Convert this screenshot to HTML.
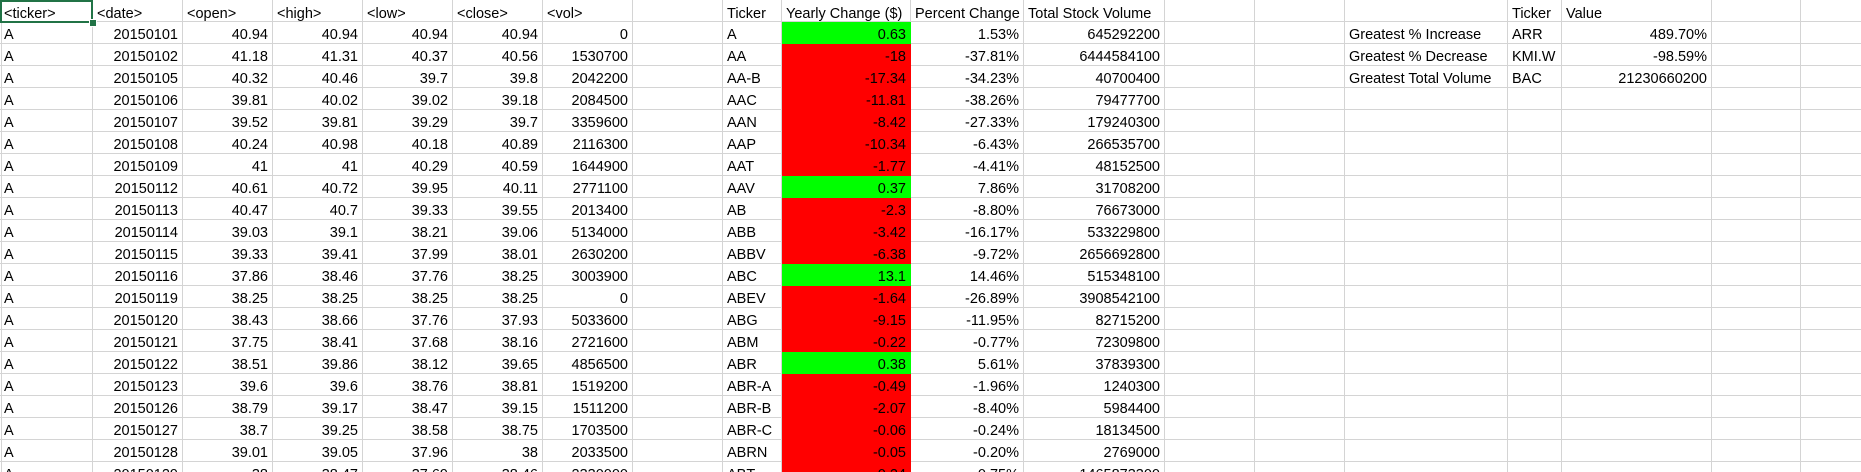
<!DOCTYPE html>
<html><head><meta charset="utf-8"><style>
html,body{margin:0;padding:0;background:#fff;width:1861px;height:472px;overflow:hidden;}
#wrap{width:1861px;height:472px;overflow:hidden;position:relative;font-family:"Liberation Sans",sans-serif;font-size:14.5px;color:#000;}
.c{position:absolute;box-sizing:border-box;border-right:1px solid #d4d4d4;border-bottom:1px solid #d4d4d4;padding:3px 4px 0 4px;line-height:20px;white-space:nowrap;overflow:hidden;}
.r{text-align:right;}
#sel{position:absolute;left:0;top:0;width:93px;height:23px;box-sizing:border-box;border:2px solid #217346;}
#handle{position:absolute;left:89px;top:19px;width:6px;height:6px;background:#217346;border:1px solid #fff;}
#lb{position:absolute;left:1px;top:0;width:1px;height:472px;background:#d4d4d4;}
</style></head><body>
<div id="wrap">
<div id="grid"></div>
<div id="lb"></div>
<div id="sel"></div>
<div id="handle"></div>
</div>
<script>
const colEdges=[0,93,183,273,363,453,543,633,723,782,911,1024,1165,1255,1345,1508,1562,1712,1801,1891];
const headers=["<ticker>","<date>","<open>","<high>","<low>","<close>","<vol>","","Ticker","Yearly Change ($)","Percent Change","Total Stock Volume","","","","Ticker","Value","",""];
const dates=["20150101","20150102","20150105","20150106","20150107","20150108","20150109","20150112","20150113","20150114","20150115","20150116","20150119","20150120","20150121","20150122","20150123","20150126","20150127","20150128","20150129"];
const opens=["40.94","41.18","40.32","39.81","39.52","40.24","41","40.61","40.47","39.03","39.33","37.86","38.25","38.43","37.75","38.51","39.6","38.79","38.7","39.01","38"];
const highs=["40.94","41.31","40.46","40.02","39.81","40.98","41","40.72","40.7","39.1","39.41","38.46","38.25","38.66","38.41","39.86","39.6","39.17","39.25","39.05","38.47"];
const lows=["40.94","40.37","39.7","39.02","39.29","40.18","40.29","39.95","39.33","38.21","37.99","37.76","38.25","37.76","37.68","38.12","38.76","38.47","38.58","37.96","37.69"];
const closes=["40.94","40.56","39.8","39.18","39.7","40.89","40.59","40.11","39.55","39.06","38.01","38.25","38.25","37.93","38.16","39.65","38.81","39.15","38.75","38","38.46"];
const vols=["0","1530700","2042200","2084500","3359600","2116300","1644900","2771100","2013400","5134000","2630200","3003900","0","5033600","2721600","4856500","1519200","1511200","1703500","2033500","2330000"];
const tickers=["A","AA","AA-B","AAC","AAN","AAP","AAT","AAV","AB","ABB","ABBV","ABC","ABEV","ABG","ABM","ABR","ABR-A","ABR-B","ABR-C","ABRN","ABT"];
const yearly=["0.63","-18","-17.34","-11.81","-8.42","-10.34","-1.77","0.37","-2.3","-3.42","-6.38","13.1","-1.64","-9.15","-0.22","0.38","-0.49","-2.07","-0.06","-0.05","-0.24"];
const pct=["1.53%","-37.81%","-34.23%","-38.26%","-27.33%","-6.43%","-4.41%","7.86%","-8.80%","-16.17%","-9.72%","14.46%","-26.89%","-11.95%","-0.77%","5.61%","-1.96%","-8.40%","-0.24%","-0.20%","-0.75%"];
const totals=["645292200","6444584100","40700400","79477700","179240300","266535700","48152500","31708200","76673000","533229800","2656692800","515348100","3908542100","82715200","72309800","37839300","1240300","5984400","18134500","2769000","1465873300"];
const sumLabels=["Greatest % Increase","Greatest % Decrease","Greatest Total Volume"];
const sumTickers=["ARR","KMI.W","BAC"];
const sumValues=["489.70%","-98.59%","21230660200"];
const g=document.getElementById('grid');
const HDR=22,RH=22;
function cell(ci,ri,text,right,bg){
  const d=document.createElement('div');
  d.className='c'+(right?' r':'');
  const top=ri===0?0:HDR+(ri-1)*RH;
  const h=ri===0?HDR:RH;
  d.style.left=colEdges[ci]+'px';d.style.top=top+'px';
  d.style.width=(colEdges[ci+1]-colEdges[ci])+'px';d.style.height=h+'px';
  if(ri===0)d.style.paddingTop='4px';
  if(bg){d.style.background=bg;d.style.borderRightColor=bg;d.style.borderBottomColor=bg;}
  d.textContent=text;
  
  
  g.appendChild(d);
}
for(let ci=0;ci<19;ci++)cell(ci,0,headers[ci],false);
for(let i=0;i<21;i++){
  const ri=i+1;
  const row=["A",dates[i],opens[i],highs[i],lows[i],closes[i],vols[i],"",tickers[i],yearly[i],pct[i],totals[i],"","",i<3?sumLabels[i]:"",i<3?sumTickers[i]:"",i<3?sumValues[i]:"","",""];
  const rightCols=[1,2,3,4,5,6,9,10,11,16];
  for(let ci=0;ci<19;ci++){
    let bg=null;
    if(ci===9)bg=parseFloat(yearly[i])>=0?'#00ff00':'#ff0000';
    cell(ci,ri,row[ci],rightCols.includes(ci),bg);
  }
}
</script>
</body></html>
